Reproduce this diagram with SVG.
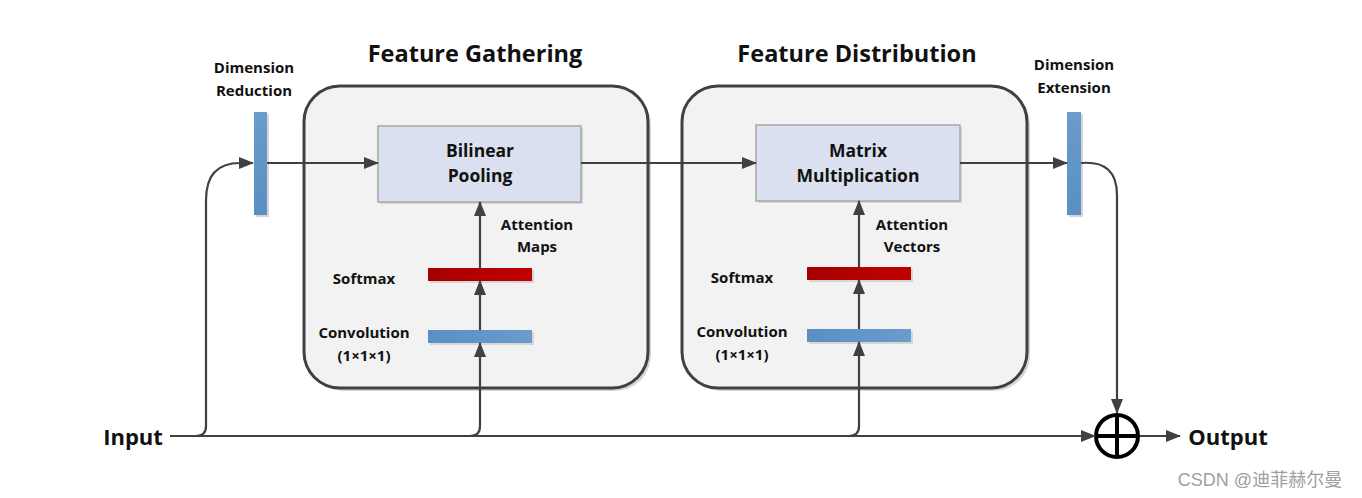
<svg xmlns="http://www.w3.org/2000/svg" width="1362" height="498" viewBox="0 0 1362 498">
<style>
.t{font-family:"Open Sans","Liberation Sans",sans-serif;font-weight:bold;fill:#111;text-anchor:middle}
.title{font-size:23.5px}
.lbl{font-size:15px}
.box{font-size:17.5px}
.big{font-size:22px}
.ln{fill:none;stroke:#404040;stroke-width:2.2}
.cont{fill:#f2f2f2;stroke:#404040;stroke-width:3}
.op{fill:#dae0ef;stroke:#a6a6a6;stroke-width:1.5}
.blue{fill:url(#gb)}
.bluev{fill:url(#gbv)}
.red{fill:url(#gr)}
.sh{fill:#d6d6d6}
</style>
<defs>
<marker id="ah" viewBox="0 0 15 12" refX="14" refY="6" markerWidth="15" markerHeight="12" markerUnits="userSpaceOnUse" orient="auto">
<path d="M0,0 L15,6 L0,12 Z" fill="#404040"/>
</marker>
<linearGradient id="gb" x1="0" y1="0" x2="1" y2="0"><stop offset="0" stop-color="#5a8fc3"/><stop offset="1" stop-color="#6a9ccc"/></linearGradient>
<linearGradient id="gbv" x1="0" y1="0" x2="0" y2="1"><stop offset="0" stop-color="#6a9ccc"/><stop offset="1" stop-color="#5a8fc3"/></linearGradient>
<linearGradient id="gr" x1="0" y1="0" x2="1" y2="0"><stop offset="0" stop-color="#a50000"/><stop offset="1" stop-color="#c00000"/></linearGradient>
</defs>

<g id="titles">
<text class="t title" x="475" y="62">Feature Gathering</text>
<text class="t title" x="857" y="62">Feature Distribution</text>
</g>

<g id="feature-gathering">
<rect class="sh" x="307" y="89" width="344" height="302" rx="36"/>
<rect class="cont" x="304" y="86" width="344" height="302" rx="36"/>
</g>
<g id="feature-distribution">
<rect class="sh" x="685" y="89" width="345" height="302" rx="36"/>
<rect class="cont" x="682" y="86" width="345" height="302" rx="36"/>
</g>

<g id="dim-reduction">
<rect class="sh" x="256" y="114" width="13" height="103"/>
<rect class="bluev" x="254" y="112" width="13" height="103"/>
<text class="t lbl" x="254" y="73">Dimension</text>
<text class="t lbl" x="254" y="96">Reduction</text>
</g>
<g id="dim-extension">
<rect class="sh" x="1069" y="114" width="14" height="103"/>
<rect class="bluev" x="1067" y="112" width="14" height="103"/>
<text class="t lbl" x="1074" y="70">Dimension</text>
<text class="t lbl" x="1074" y="93">Extension</text>
</g>

<g id="bilinear-pooling">
<rect class="sh" x="380" y="128" width="203" height="76"/>
<rect class="op" x="378" y="126" width="203" height="76"/>
<text class="t box" x="480" y="157">Bilinear</text>
<text class="t box" x="480" y="182">Pooling</text>
</g>
<g id="matrix-multiplication">
<rect class="sh" x="758" y="127" width="204" height="76"/>
<rect class="op" x="756" y="125" width="204" height="76"/>
<text class="t box" x="858" y="157">Matrix</text>
<text class="t box" x="858" y="182">Multiplication</text>
</g>

<g id="softmax-1">
<rect class="sh" x="430" y="270" width="104" height="13"/>
<rect class="red" x="428" y="268" width="104" height="13"/>
<text class="t lbl" x="364" y="284">Softmax</text>
</g>
<g id="conv-1">
<rect class="sh" x="430" y="332" width="104" height="13"/>
<rect class="blue" x="428" y="330" width="104" height="13"/>
<text class="t lbl" x="364" y="338">Convolution</text>
<text class="t lbl" x="364" y="361">(1×1×1)</text>
</g>
<g id="softmax-2">
<rect class="sh" x="809" y="269" width="104" height="13"/>
<rect class="red" x="807" y="267" width="104" height="13"/>
<text class="t lbl" x="742" y="283">Softmax</text>
</g>
<g id="conv-2">
<rect class="sh" x="809" y="331" width="104" height="13"/>
<rect class="blue" x="807" y="329" width="104" height="13"/>
<text class="t lbl" x="742" y="337">Convolution</text>
<text class="t lbl" x="742" y="360">(1×1×1)</text>
</g>

<g id="labels">
<text class="t lbl" x="537" y="230">Attention</text>
<text class="t lbl" x="537" y="252">Maps</text>
<text class="t lbl" x="912" y="230">Attention</text>
<text class="t lbl" x="912" y="252">Vectors</text>
</g>

<g id="input">
<text class="t big" x="133" y="445">Input</text>
</g>
<g id="sum">
<circle cx="1117" cy="436" r="21" fill="#fff" stroke="#000" stroke-width="4"/>
<line x1="1096" y1="436" x2="1138" y2="436" stroke="#000" stroke-width="4"/>
<line x1="1117" y1="415" x2="1117" y2="457" stroke="#000" stroke-width="4"/>
</g>
<g id="output">
<text class="t big" x="1228" y="445">Output</text>
</g>

<g id="connectors">
<path class="ln" marker-end="url(#ah)" d="M170,436 H1095"/>
<path class="ln" marker-end="url(#ah)" d="M196,436 Q206,436 206,426 V200 Q206,163 240,163 H253"/>
<path class="ln" marker-end="url(#ah)" d="M267,163 H378"/>
<path class="ln" marker-end="url(#ah)" d="M470,436 Q480,436 480,426 V343"/>
<path class="ln" marker-end="url(#ah)" d="M480,330 V281"/>
<path class="ln" marker-end="url(#ah)" d="M480,268 V202"/>
<path class="ln" marker-end="url(#ah)" d="M849,436 Q859,436 859,426 V342"/>
<path class="ln" marker-end="url(#ah)" d="M859,329 V280"/>
<path class="ln" marker-end="url(#ah)" d="M859,267 V201"/>
<path class="ln" marker-end="url(#ah)" d="M581,163 H756"/>
<path class="ln" marker-end="url(#ah)" d="M960,163 H1067"/>
<path class="ln" marker-end="url(#ah)" d="M1081,163 Q1117,160 1117,195 V413"/>
<path class="ln" marker-end="url(#ah)" d="M1140,436 H1180"/>
</g>

<text x="1260" y="486" font-family="Liberation Sans,Noto Sans CJK SC,sans-serif" font-size="18" fill="#a0a0a0" text-anchor="middle">CSDN @迪菲赫尔曼</text>
</svg>
